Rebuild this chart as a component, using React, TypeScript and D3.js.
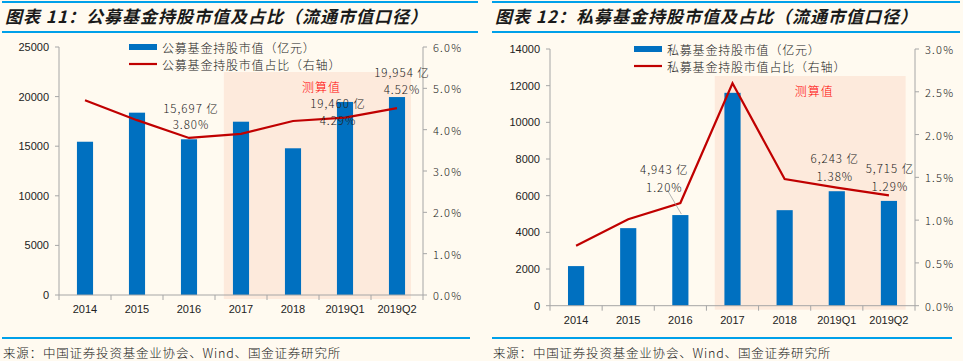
import * as d3 from "d3";

// ---- data ----
const categories = ["2014", "2015", "2016", "2017", "2018", "2019Q1", "2019Q2"];

const publicValue = [15450, 18380, 15697, 17470, 14790, 19460, 19954];
const publicRatio = [0.0471, 0.0423, 0.038, 0.039, 0.0421, 0.0429, 0.0452];
const publicLeftTicks = [0, 5000, 10000, 15000, 20000, 25000];
const publicRightTicks = [0, 0.01, 0.02, 0.03, 0.04, 0.05, 0.06];

const privateValue = [2160, 4230, 4943, 11610, 5210, 6243, 5715];
const privateRatio = [0.007, 0.0101, 0.012, 0.026, 0.0148, 0.0138, 0.0129];
const privateLeftTicks = [0, 2000, 4000, 6000, 8000, 10000, 12000, 14000];
const privateRightTicks = [0, 0.005, 0.01, 0.015, 0.02, 0.025, 0.03];

const publicNotes = [
  { i: 2, value: "15,697 亿", pct: "3.80%", dx: 2, dy1: -30, dy2: -14 },
  { i: 5, value: "19,460 亿", pct: "4.29%", dx: -7, dy1: -15, dy2: 2 },
  { i: 6, value: "19,954 亿", pct: "4.52%", dx: 5, dy1: -36, dy2: -19 },
];
const privateNotes = [
  { i: 2, value: "4,943 亿", pct: "1.20%", dx: -16, dy1: -34, dy2: -16 },
  { i: 5, value: "6,243 亿", pct: "1.38%", dx: -2, dy1: -30, dy2: -12 },
  { i: 6, value: "5,715 亿", pct: "1.29%", dx: 1, dy1: -27, dy2: -9 },
];

const BLUE = "#0070C0";
const RED = "#C00000";
const RULE = "#00A0E9";
const AXIS = "#A6A6A6";
const CJK = "'Noto Sans CJK SC', sans-serif";
const NUM = "'Liberation Sans', Arial, sans-serif";

interface Note {
  i: number;
  value: string;
  pct: string;
  dx: number;
  dy1: number;
  dy2: number;
}

interface PanelProps {
  ox: number;
  width: number;
  title: string;
  barLabel: string;
  lineLabel: string;
  values: number[];
  ratios: number[];
  leftTicks: number[];
  rightTicks: number[];
  notes: Note[];
  left: number;
  right: number;
  top: number;
  bottom: number;
  legendX: number;
  shadeTop: number;
  shadeFrom: number;
  shadeTo: number;
  leader?: boolean;
}

function Panel(p: PanelProps) {
  const x = d3.scaleBand(categories, [p.left, p.right]);
  const bw = x.bandwidth();
  const y = d3.scaleLinear(d3.extent(p.leftTicks) as [number, number], [p.bottom, p.top]);
  const y2 = d3.scaleLinear(d3.extent(p.rightTicks) as [number, number], [p.bottom, p.top]);
  const cx = (c: string) => (x(c) as number) + bw / 2;
  const line = d3.line<number>((_, i) => cx(categories[i]), (d) => y2(d));
  const barW = bw * 0.31;
  const fmt = d3.format(".1f");
  const shadeX0 = (x("2017") as number) + bw * p.shadeFrom;
  const shadeX1 = (x("2019Q2") as number) + bw * p.shadeTo;

  return (
    <g transform={`translate(${p.ox},0)`}>
      <line x1={2} x2={p.width - 2} y1={2} y2={2} stroke={RULE} strokeWidth={2} />
      <text x={5} y={23} fontFamily={CJK} fontSize={17} fontWeight="bold" fontStyle="italic" letterSpacing={1} fill="#1a1a1a">
        {p.title}
      </text>
      <line x1={2} x2={p.width - 2} y1={32} y2={32} stroke={RULE} strokeWidth={2} />

      <rect x={shadeX0} y={p.shadeTop} width={shadeX1 - shadeX0} height={p.bottom + 4 - p.shadeTop} fill="#FDEADC" />
      <text x={(shadeX0 + shadeX1) / 2 + 4} y={p.shadeTop + 14} textAnchor="middle" dominantBaseline="central" fontFamily={CJK} fontSize={12} fontWeight={300} fill="#FF0000" letterSpacing={1}>
        测算值
      </text>

      {categories.map((c, i) => (
        <rect key={c} x={cx(c) - barW / 2} y={y(p.values[i])} width={barW} height={p.bottom - y(p.values[i])} fill={BLUE} />
      ))}

      {/* left axis */}
      <line x1={p.left} x2={p.left} y1={p.top} y2={p.bottom} stroke={AXIS} />
      {p.leftTicks.map((t) => (
        <g key={t}>
          <line x1={p.left - 4} x2={p.left} y1={y(t)} y2={y(t)} stroke={AXIS} />
          <text x={p.left - 10} y={y(t)} textAnchor="end" dominantBaseline="central" fontFamily={NUM} fontSize={11} fill="#222">
            {t}
          </text>
        </g>
      ))}

      {/* right axis */}
      <line x1={p.right} x2={p.right} y1={p.top} y2={p.bottom} stroke={AXIS} />
      {p.rightTicks.map((t) => (
        <g key={t}>
          <line x1={p.right} x2={p.right + 4} y1={y2(t)} y2={y2(t)} stroke={AXIS} />
          <text x={p.right + 10} y={y2(t)} dominantBaseline="central" fontFamily={CJK} fontSize={11} fontWeight={300} letterSpacing={1.2} fill="#222">
            {fmt(t * 100)}%
          </text>
        </g>
      ))}

      {/* x axis */}
      <line x1={p.left} x2={p.right} y1={p.bottom} y2={p.bottom} stroke={AXIS} />
      {categories.map((c) => (
        <g key={c}>
          <line x1={x(c)} x2={x(c)} y1={p.bottom} y2={p.bottom + 5} stroke={AXIS} />
          <text x={cx(c)} y={p.bottom + 14} textAnchor="middle" dominantBaseline="central" fontFamily={NUM} fontSize={11} fill="#222">
            {c}
          </text>
        </g>
      ))}
      <line x1={p.right} x2={p.right} y1={p.bottom} y2={p.bottom + 5} stroke={AXIS} />

      <path d={line(p.ratios) ?? ""} fill="none" stroke={RED} strokeWidth={2.2} />

      {p.leader && (
        <line
          x1={cx(categories[2]) - 13}
          y1={y2(p.ratios[2]) - 13}
          x2={cx(categories[2]) + 1}
          y2={y(p.values[2]) - 1}
          stroke="#A0A0A0"
          strokeWidth={0.8}
        />
      )}

      {p.notes.map((n) => {
        const nx = cx(categories[n.i]) + n.dx;
        const ny = y2(p.ratios[n.i]);
        return (
          <g key={n.i} fontFamily={CJK} fontSize={11.5} fontWeight={300} fill="#222" letterSpacing={1} textAnchor="middle">
            <text x={nx} y={ny + n.dy1} dominantBaseline="central">{n.value}</text>
            <text x={nx} y={ny + n.dy2} dominantBaseline="central">{n.pct}</text>
          </g>
        );
      })}

      {/* legend */}
      <rect x={p.legendX} y={p.top - 3} width={28} height={6} fill={BLUE} />
      <text x={p.legendX + 33} y={p.top} dominantBaseline="central" fontFamily={CJK} fontSize={12} fontWeight={300} fill="#222" letterSpacing={0.8}>
        {p.barLabel}
      </text>
      <line x1={p.legendX} x2={p.legendX + 28} y1={p.top + 17} y2={p.top + 17} stroke={RED} strokeWidth={2.2} />
      <text x={p.legendX + 33} y={p.top + 17} dominantBaseline="central" fontFamily={CJK} fontSize={12} fontWeight={300} fill="#222" letterSpacing={0.8}>
        {p.lineLabel}
      </text>

      <line x1={2} x2={p.width - 10} y1={338} y2={338} stroke={RULE} strokeWidth={2} />
      <text x={3} y={352} dominantBaseline="central" fontFamily={CJK} fontSize={12.5} fontWeight={300} letterSpacing={0.8} fill="#1a1a1a">
        来源：中国证券投资基金业协会、Wind、国金证券研究所
      </text>
    </g>
  );
}

export default function App() {
  return (
    <svg width={963} height={361} style={{ position: "absolute", left: 0, top: 0, background: "#FFFAF0" }}>
      <rect width={963} height={361} fill="#FFFAF0" />
      <Panel
        ox={0}
        width={480}
        title="图表 11：公募基金持股市值及占比（流通市值口径）"
        barLabel="公募基金持股市值（亿元）"
        lineLabel="公募基金持股市值占比（右轴）"
        values={publicValue}
        ratios={publicRatio}
        leftTicks={publicLeftTicks}
        rightTicks={publicRightTicks}
        notes={publicNotes}
        left={59}
        right={423}
        top={47}
        bottom={295}
        legendX={129}
        shadeTop={72}
        shadeFrom={0.17}
        shadeTo={0.77}
      />
      <Panel
        ox={490}
        width={472}
        title="图表 12：私募基金持股市值及占比（流通市值口径）"
        barLabel="私募基金持股市值（亿元）"
        lineLabel="私募基金持股市值占比（右轴）"
        values={privateValue}
        ratios={privateRatio}
        leftTicks={privateLeftTicks}
        rightTicks={privateRightTicks}
        notes={privateNotes}
        left={60}
        right={425}
        top={49}
        bottom={305.7}
        legendX={144}
        shadeTop={76}
        shadeFrom={0.16}
        shadeTo={0.82}
        leader
      />
    </svg>
  );
}
